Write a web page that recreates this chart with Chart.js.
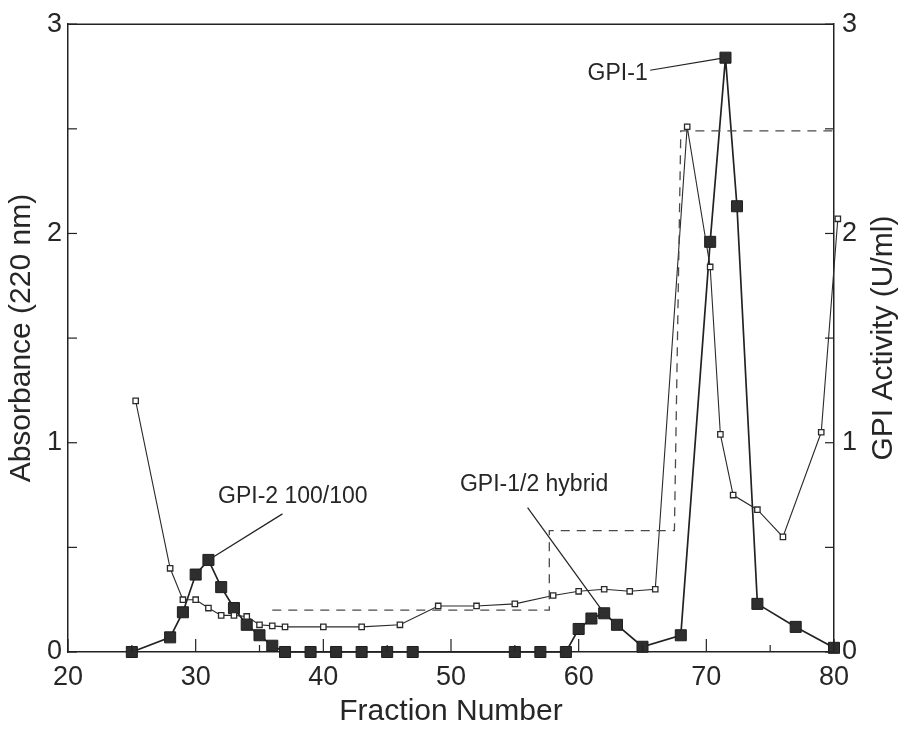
<!DOCTYPE html>
<html lang="en">
<head>
<meta charset="UTF-8">
<title>GPI - Fraction profile</title>
<script src="https://cdn.jsdelivr.net/npm/chart.js"></script>
<style>
  html, body { margin: 0; padding: 0; background: #fff; }
</style>
</head>
<body>
<canvas id="grafico" width="906" height="743"></canvas>
<script>
  // absorbance (open squares, left axis)
  const absFrac = [25.3, 28, 29, 30, 31, 32, 33, 34, 35, 36, 37, 40, 43, 46, 49, 52, 55, 58, 60, 62, 64, 66, 68.5, 70.3, 71.1, 72.1, 74, 76, 79, 80.3];
  const absVal = [1.20, 0.40, 0.25, 0.25, 0.21, 0.175, 0.175, 0.17, 0.13, 0.125, 0.12, 0.12, 0.12, 0.13, 0.22, 0.22, 0.23, 0.27, 0.29, 0.30, 0.29, 0.30, 2.51, 1.84, 1.04, 0.75, 0.68, 0.55, 1.05, 2.07];

  // GPI activity (filled squares, right axis)
  const gpiFrac = [25, 28, 29, 30, 31, 32, 33, 34, 35, 36, 37, 39, 41, 43, 45, 47, 55, 57, 59, 60, 61, 62, 63, 65, 68, 70.3, 71.5, 72.4, 74, 77, 80];
  const gpiVal = [0, 0.07, 0.19, 0.37, 0.44, 0.31, 0.21, 0.13, 0.08, 0.03, 0, 0, 0, 0, 0, 0, 0, 0, 0, 0.11, 0.16, 0.185, 0.13, 0.025, 0.08, 1.96, 2.84, 2.13, 0.23, 0.12, 0.02];

  // step gradient (dashed)
  const gradFrac = [36, 57.7, 57.7, 67.5, 68, 80];
  const gradVal = [0.2, 0.2, 0.58, 0.58, 2.49, 2.49];

  const xTicks = [20, 30, 40, 50, 60, 70, 80];
  const yTicks = [0, 1, 2, 3];

  const rotulos = ['GPI-2 100/100', 'GPI-1/2 hybrid', 'GPI-1'];
  const rotuloX = [31.75, 50.7, 60.7];
  const rotuloY = [0.714, 0.771, 2.733];
  const setaX = [36.8, 56.0, 65.6];
  const setaY = [0.66, 0.69, 2.78];
  const alvoX = [31, 62, 71.5];
  const alvoY = [0.44, 0.185, 2.84];

  const corTexto = '#262626';
  const corLinha = '#222';
  const fonte = '"Liberation Sans", Arial, Helvetica, sans-serif';

  const pontos = (xs, ys) => xs.map((x, i) => ({ x: x, y: ys[i] }));

  const marcas = {
    id: 'marcas',
    beforeDatasetsDraw(chart) {
      const c = chart.ctx;
      const sx = chart.scales.x, sy = chart.scales.y2;
      c.save();
      c.strokeStyle = corLinha;
      c.lineWidth = 1.2;
      for (let i = 0; i < rotulos.length; i++) {
        c.beginPath();
        c.moveTo(sx.getPixelForValue(setaX[i]), sy.getPixelForValue(setaY[i]));
        c.lineTo(sx.getPixelForValue(alvoX[i]), sy.getPixelForValue(alvoY[i]));
        c.stroke();
      }
      c.restore();
    },
    afterDraw(chart) {
      const c = chart.ctx;
      const a = chart.chartArea;
      const sx = chart.scales.x, sy = chart.scales.y, sy2 = chart.scales.y2;
      c.save();
      c.strokeStyle = corLinha;
      c.lineWidth = 1.5;
      // top frame
      c.beginPath();
      c.moveTo(a.left, a.top);
      c.lineTo(a.right, a.top);
      c.stroke();
      // inward ticks
      c.lineWidth = 1.2;
      for (let v = 20; v <= 80; v += 5) {
        const px = sx.getPixelForValue(v);
        const len = v % 10 === 0 ? 13 : 7;
        c.beginPath();
        c.moveTo(px, a.bottom);
        c.lineTo(px, a.bottom - len);
        c.stroke();
      }
      for (let v = 0; v <= 3; v += 0.5) {
        const py = sy.getPixelForValue(v);
        c.beginPath();
        c.moveTo(a.left, py);
        c.lineTo(a.left + 9, py);
        c.stroke();
        const py2 = sy2.getPixelForValue(v);
        c.beginPath();
        c.moveTo(a.right, py2);
        c.lineTo(a.right - 9, py2);
        c.stroke();
      }
      // labels
      c.fillStyle = corTexto;
      c.font = '23px ' + fonte;
      c.textBaseline = 'alphabetic';
      c.textAlign = 'left';
      for (let i = 0; i < rotulos.length; i++) {
        c.fillText(rotulos[i], sx.getPixelForValue(rotuloX[i]), sy2.getPixelForValue(rotuloY[i]));
      }
      // right axis title, reading upward
      c.font = '30px ' + fonte;
      c.translate(884, (a.top + a.bottom) / 2);
      c.rotate(-Math.PI / 2);
      c.textAlign = 'center';
      c.textBaseline = 'middle';
      c.fillText('GPI Activity (U/ml)', 0, 0);
      c.restore();
    }
  };

  const ctx = document.getElementById('grafico').getContext('2d');
  const grafico = new Chart(ctx, {
    type: 'scatter',
    data: {
      datasets: [
        {
          label: 'Gradient',
          data: pontos(gradFrac, gradVal),
          yAxisID: 'y',
          showLine: true,
          borderColor: '#4a4a4a',
          borderWidth: 1.3,
          borderDash: [9, 7],
          pointRadius: 0
        },
        {
          label: 'Absorbance (220 nm)',
          data: pontos(absFrac, absVal),
          yAxisID: 'y',
          showLine: true,
          borderColor: '#2a2a2a',
          borderWidth: 1.1,
          pointStyle: 'rect',
          pointRadius: 3.8,
          pointBackgroundColor: '#fff',
          pointBorderColor: '#2a2a2a',
          pointBorderWidth: 1.3,
          clip: 12
        },
        {
          label: 'GPI Activity (U/ml)',
          data: pontos(gpiFrac, gpiVal),
          yAxisID: 'y2',
          showLine: true,
          borderColor: corLinha,
          borderWidth: 1.7,
          pointStyle: 'rect',
          pointRadius: 7.8,
          pointBackgroundColor: '#2e2e2e',
          pointBorderColor: '#1e1e1e',
          pointBorderWidth: 1,
          clip: 12
        }
      ]
    },
    options: {
      responsive: false,
      animation: false,
      layout: { padding: { top: 22, left: 0, right: 0, bottom: 0 } },
      plugins: {
        legend: { display: false },
        tooltip: { enabled: false }
      },
      scales: {
        x: {
          type: 'linear',
          min: 20,
          max: 80,
          afterBuildTicks: s => { s.ticks = xTicks.map(v => ({ value: v })); },
          afterFit: s => { s.height = 91; },
          grid: { display: false, drawTicks: false },
          border: { display: true, color: corLinha, width: 1.5 },
          ticks: { color: corTexto, font: { family: fonte, size: 27 }, padding: 9, maxRotation: 0 },
          title: { display: true, text: 'Fraction Number', color: corTexto, font: { family: fonte, size: 30 }, padding: { top: 0, bottom: 13 } }
        },
        y: {
          position: 'left',
          min: 0,
          max: 3,
          afterBuildTicks: s => { s.ticks = yTicks.map(v => ({ value: v })); },
          afterFit: s => { s.width = 68; },
          grid: { display: false, drawTicks: false },
          border: { display: true, color: corLinha, width: 1.5 },
          ticks: { color: corTexto, font: { family: fonte, size: 27 }, padding: 6 },
          title: { display: true, text: 'Absorbance (220 nm)', color: corTexto, font: { family: fonte, size: 30 }, padding: { top: 4, bottom: 0 } }
        },
        y2: {
          position: 'right',
          min: 0,
          max: 3,
          afterBuildTicks: s => { s.ticks = yTicks.map(v => ({ value: v })); },
          afterFit: s => { s.width = 72; },
          grid: { display: false, drawTicks: false },
          border: { display: true, color: corLinha, width: 1.5 },
          ticks: { color: corTexto, font: { family: fonte, size: 27 }, padding: 8 }
        }
      }
    },
    plugins: [marcas]
  });
</script>
</body>
</html>
